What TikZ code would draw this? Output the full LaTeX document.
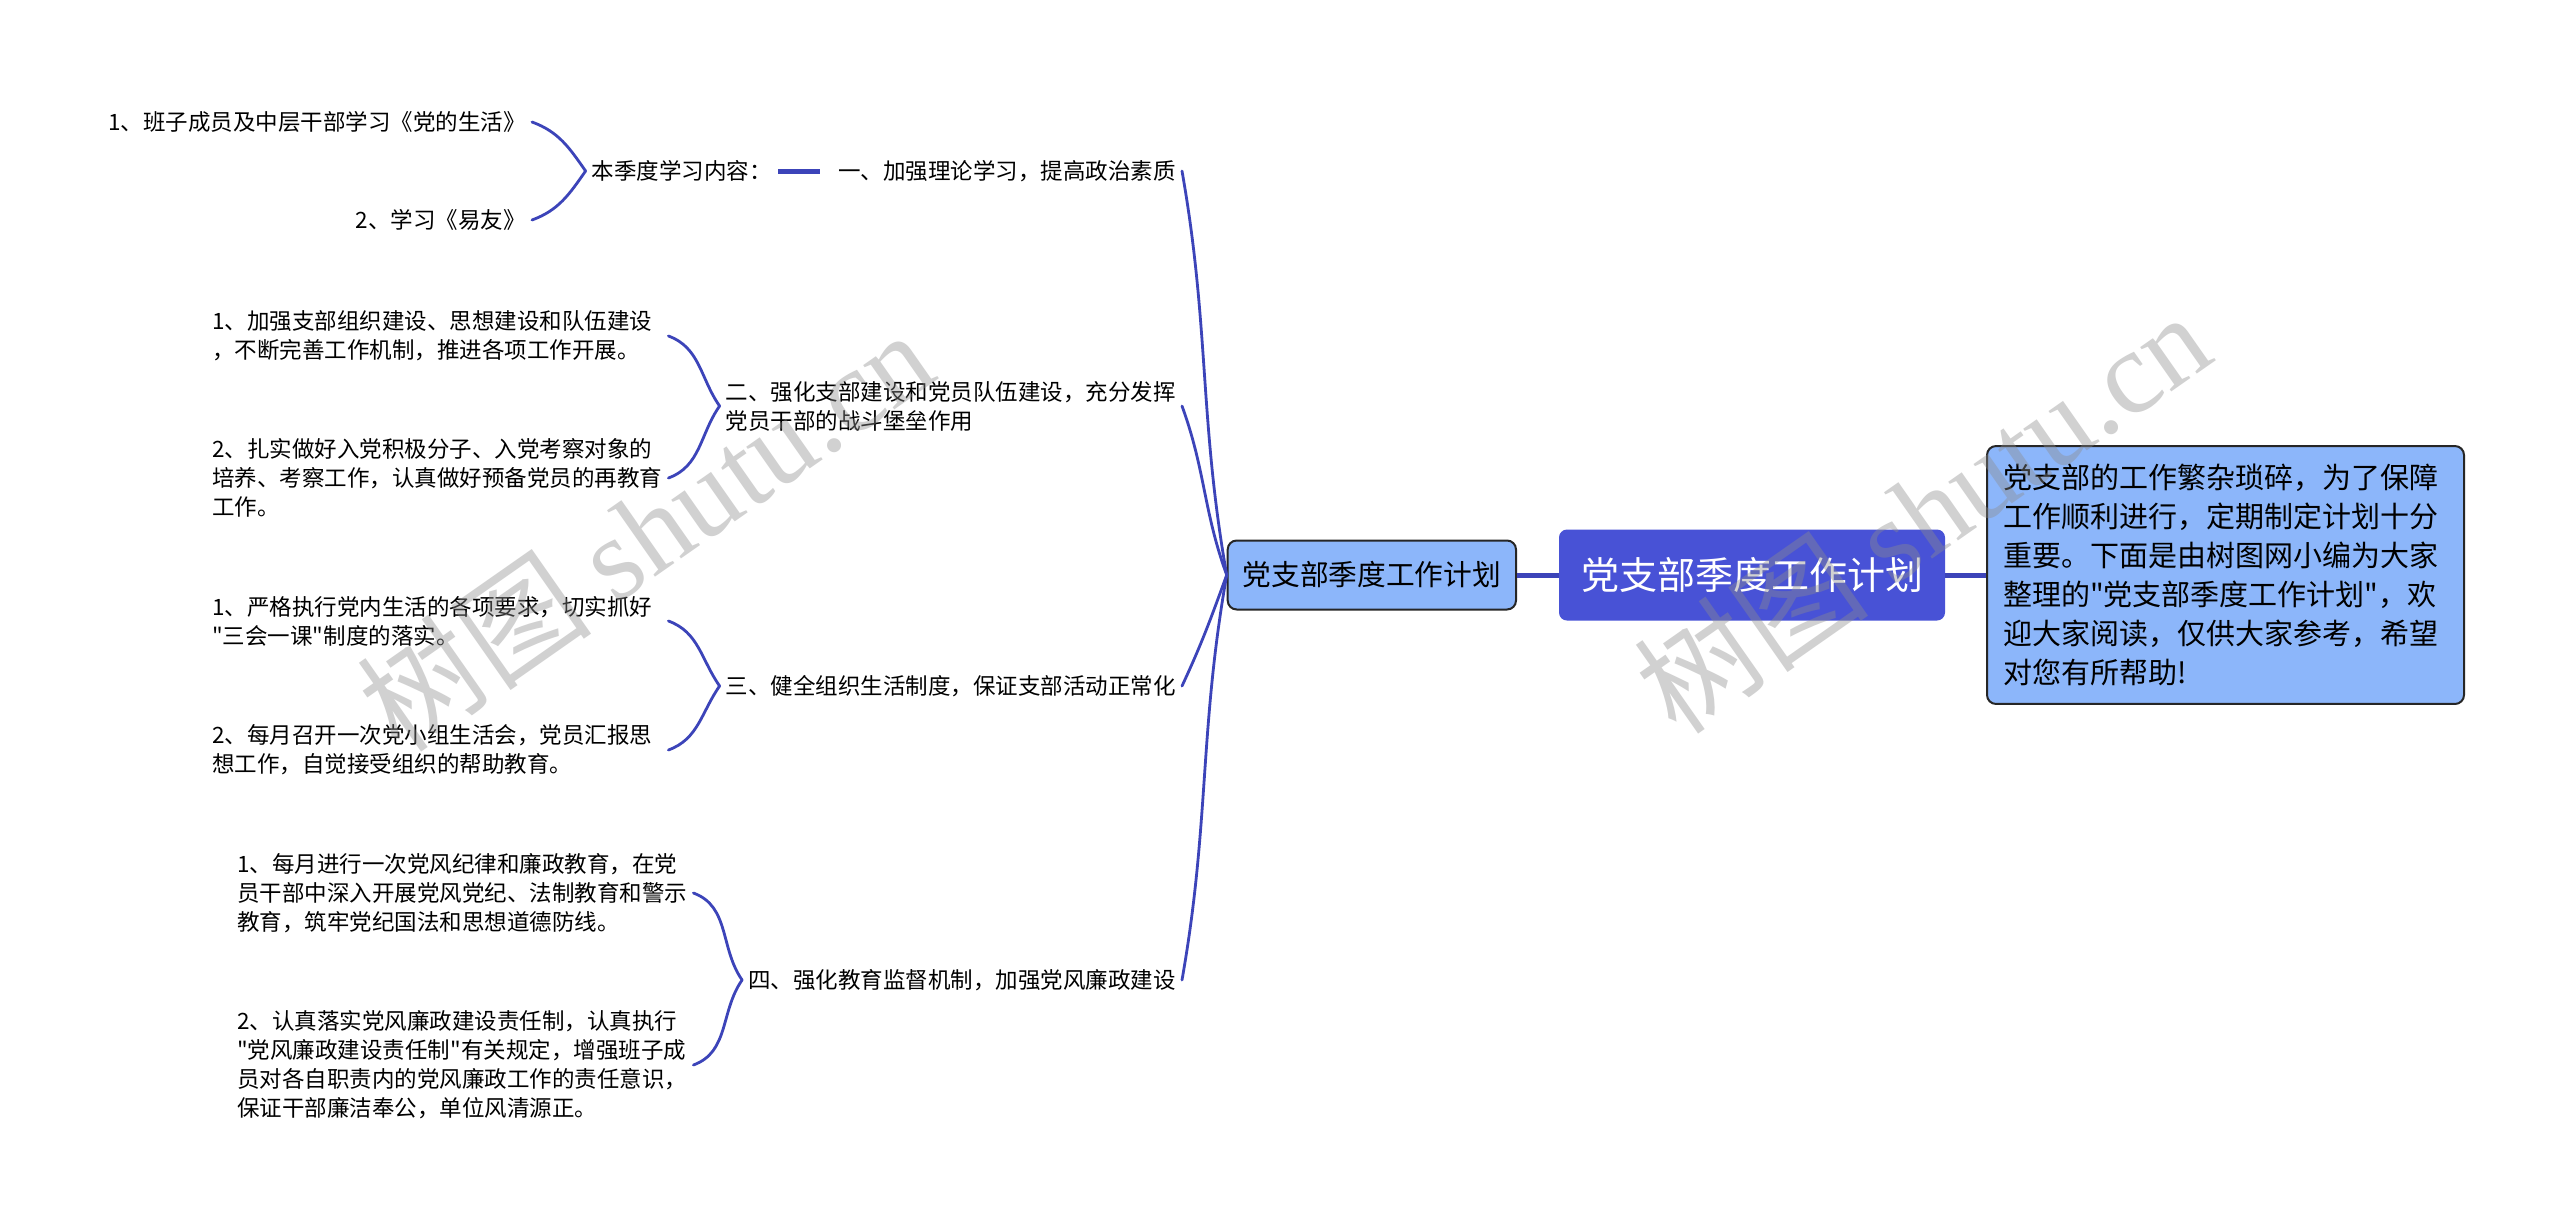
\documentclass[tikz,border=0pt]{standalone}
\usepackage{fontspec}
\setmainfont{Noto Sans CJK SC}[Ligatures=TeXOff]
\newfontfamily\wmserif{Liberation Serif}
\definecolor{linkblue}{RGB}{60,68,185}
\definecolor{rootblue}{RGB}{72,82,214}
\definecolor{boxblue}{RGB}{140,182,250}

\begin{document}
\begin{tikzpicture}
  [x=1pt,y=1pt,
   txt/.style={inner sep=6pt,font=\fontsize{22.5}{29}\selectfont,align=left},
   leaf/.style={txt,text width=450pt,anchor=west},
   rootbox/.style={rounded corners=8pt,fill=rootblue,text=white,minimum height=91pt,inner xsep=22pt,font=\fontsize{38}{44}\selectfont},
   topicbox/.style={rounded corners=9pt,fill=boxblue,draw=black!85,line width=2pt},
   link/.style={draw=linkblue,line width=2.8pt,line cap=round},
   trunk/.style={draw=linkblue,line width=5pt},
   wmark/.style={text=black!45,text opacity=0.4,rotate=35,font=\fontsize{118}{120}\selectfont}]

  \useasboundingbox[fill=white] (0,0) rectangle (2560,-1229);

  \node[rootbox] (root) at (1752,-575) {党支部季度工作计划};
  \node[topicbox,anchor=west,inner xsep=16pt,inner ysep=18pt,text width=445pt,align=left,
        font=\fontsize{29}{39}\selectfont] (note) at (1986,-575)
    {党支部的工作繁杂琐碎，为了保障\\工作顺利进行，定期制定计划十分\\重要。下面是由树图网小编为大家\\整理的"党支部季度工作计划"，欢\\迎大家阅读，仅供大家参考，希望\\对您有所帮助!};
  \node[topicbox,anchor=east,minimum height=69pt,inner xsep=15pt,font=\fontsize{28.7}{34}\selectfont] (plan) at (1517,-575) {党支部季度工作计划};

  \node[txt,anchor=east] (b1) at (1182,-171) {一、加强理论学习，提高政治素质};
  \node[txt,anchor=east] (b2) at (1182,-406) {二、强化支部建设和党员队伍建设，充分发挥\\党员干部的战斗堡垒作用};
  \node[txt,anchor=east] (b3) at (1182,-686) {三、健全组织生活制度，保证支部活动正常化};
  \node[txt,anchor=east] (b4) at (1182,-980) {四、强化教育监督机制，加强党风廉政建设};

  \node[txt,anchor=east] (s1) at (778,-171) {本季度学习内容：};
  \node[txt,anchor=east] (s11) at (532,-122) {1、班子成员及中层干部学习《党的生活》};
  \node[txt,anchor=east] (s12) at (532,-220) {2、学习《易友》};

  \node[leaf] (s21) at (206,-336) {1、加强支部组织建设、思想建设和队伍建设\\，不断完善工作机制，推进各项工作开展。};
  \node[leaf] (s22) at (206,-478) {2、扎实做好入党积极分子、入党考察对象的\\培养、考察工作，认真做好预备党员的再教育\\工作。};
  \node[leaf] (s31) at (206,-621) {1、严格执行党内生活的各项要求，切实抓好\\"三会一课"制度的落实。};
  \node[leaf] (s32) at (206,-750) {2、每月召开一次党小组生活会，党员汇报思\\想工作，自觉接受组织的帮助教育。};
  \node[leaf] (s41) at (231,-893) {1、每月进行一次党风纪律和廉政教育，在党\\员干部中深入开展党风党纪、法制教育和警示\\教育，筑牢党纪国法和思想道德防线。};
  \node[leaf] (s42) at (231,-1065) {2、认真落实党风廉政建设责任制，认真执行\\"党风廉政建设责任制"有关规定，增强班子成\\员对各自职责内的党风廉政工作的责任意识，\\保证干部廉洁奉公，单位风清源正。};

  \draw[trunk] (plan.east) -- (root.west);
  \draw[trunk] (root.east) -- (note.west);
  \draw[trunk,shorten >=12pt] (s1.east) -- (b1.west);

  \foreach \b/\o/\i in {b1/-80/100,b2/-70/110,b3/65/250,b4/80/260}
    \draw[link] (\b.east) to[out=\o,in=\i] (plan.west);

  \foreach \c/\p in {s11/s1,s21/b2,s31/b3,s41/b4}
    \draw[link] (\c.east) to[out=-20,in=125] (\p.west);
  \foreach \c/\p in {s12/s1,s22/b2,s32/b3,s42/b4}
    \draw[link] (\c.east) to[out=20,in=235] (\p.west);

  \node[wmark] (wm1) at (645,-530) {树图 {\wmserif shutu.cn}};
  \node[wmark] (wm2) at (1922,-512) {树图 {\wmserif shutu.cn}};

\end{tikzpicture}
\end{document}
